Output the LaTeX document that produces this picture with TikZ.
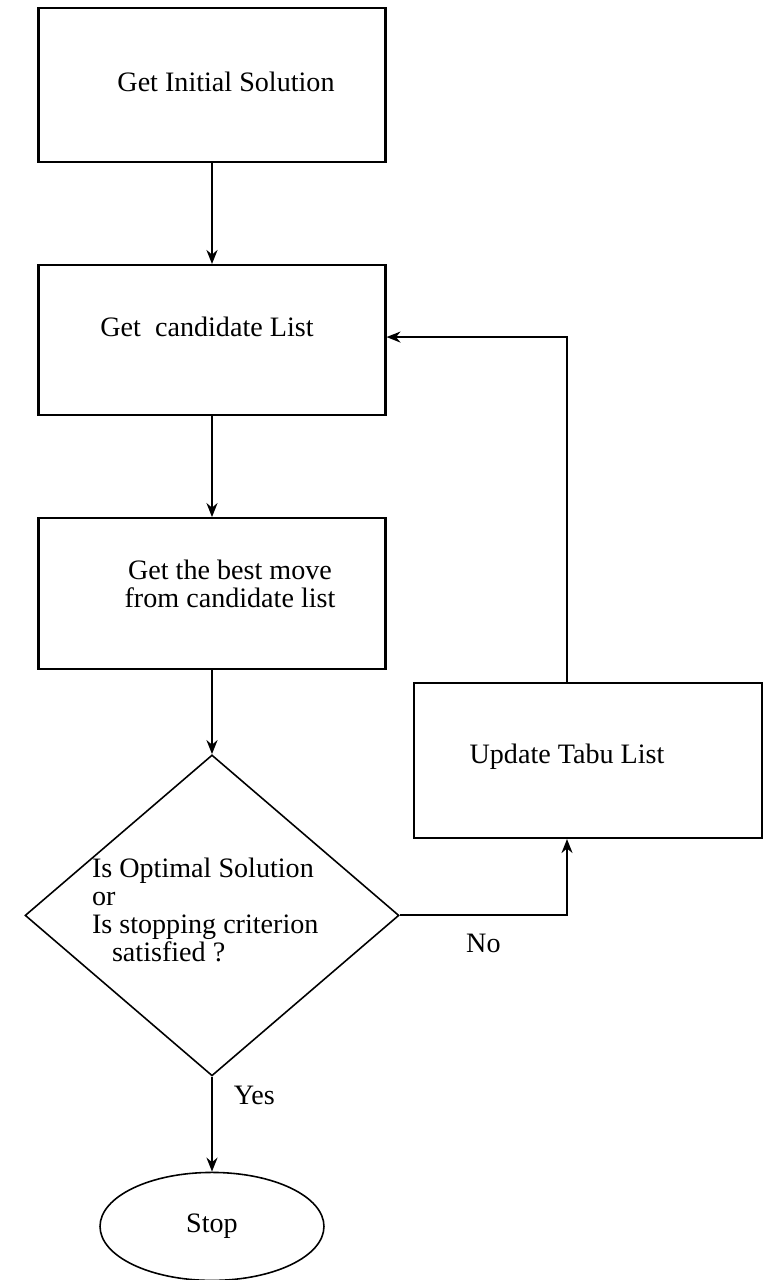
\documentclass[tikz,border=0pt]{standalone}
\usepackage{fontspec}
\setmainfont{Liberation Serif}
\usetikzlibrary{positioning,shapes.geometric,arrows.meta}

\begin{document}
\begin{tikzpicture}[x=0.02cm,y=-0.02cm,>={Stealth[length=2.8mm,width=2.2mm]},line width=1.2pt,font=\fontsize{16}{16}\selectfont,
    box node/.style={draw,rectangle,minimum width=6.94cm,minimum height=3.08cm,inner sep=0pt},
    decision node/.style={draw,diamond,line width=0.9pt,minimum width=7.48cm,minimum height=6.42cm,inner sep=0pt},
    end node/.style={draw,ellipse,line width=0.9pt,minimum width=4.48cm,minimum height=2.16cm,inner sep=0pt},
    txt node/.style={inner sep=0pt}]
    \useasboundingbox (0,0) rectangle (763,1280);

    \node[box node] (1) at (212,85) {};
    \node[box node,minimum height=3.0cm] (2) [below=2.02cm of 1] {};
    \node[box node,minimum height=3.02cm] (3) [below=2.02cm of 2] {};
    \node[decision node] (4) [below=1.68cm of 3] {};
    \node[end node] (6) [below=1.9cm of 4] {Stop};
    \node[box node,minimum width=6.96cm,minimum height=3.1cm] (5) at (588,760.5) {};

    % box texts
    \node[txt node] (t1) at (226,82) {Get Initial Solution};
    \node[txt node] (t2) at (207,327) {Get\ \ candidate List};
    \node[txt node,align=center] (t3) at (230,584) {Get the best move\\from candidate list};
    \node[txt node,align=left,anchor=west] (t4) at (91,910) {Is Optimal Solution\\or\\Is stopping criterion\\\hspace*{0.4cm}satisfied ?};
    \node[txt node] (t5) at (567,757) {Update Tabu List};

    \path[->]
        (1) edge (2)
        (2) edge (3)
        (3) edge (4)
        (4) edge node[right=0.3cm,pos=0.2] {Yes} (6)
        ;
    \draw[->] (4.east) -| node[pos=0.25,below=0.24cm] {No} ([xshift=-0.42cm]5.south);
    \draw[->] ([xshift=-0.42cm]5.north) |- ([yshift=0.06cm]2.east);
\end{tikzpicture}
\end{document}
